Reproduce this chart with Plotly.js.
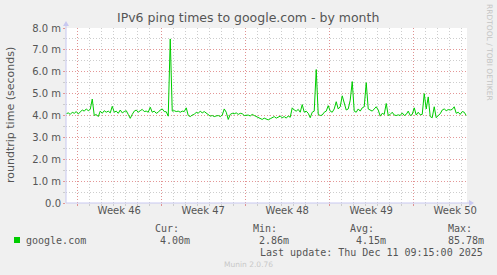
<!DOCTYPE html>
<html><head><meta charset="utf-8">
<script src="https://cdn.plot.ly/plotly-3.0.1.min.js"></script>
<style>html,body{margin:0;padding:0;background:#f0f0f0;}#chart{width:497px;height:275px;}</style>
</head><body><div id="chart"></div>
<script>
// ---- data ----
const seriesName = 'google.com';
const startTime = '2025-11-08T02:00:00Z';
const stepHours = 4;
const rttMs = [
  4.08,4.12,4.05,4.15,4.10,4.18,4.07,
  4.15,4.25,4.20,4.30,4.22,4.28,
  4.75,
  4.00,4.05,3.95,
  4.20,4.10,4.22,4.15,4.20,4.12,
  4.42,
  4.15,4.20,4.10,4.25,4.12,4.18,4.22,
  4.05,3.87,4.05,
  4.20,4.25,4.15,4.22,4.28,4.18,4.20,4.15,
  4.38,
  4.15,4.20,4.10,4.15,4.25,4.30,4.18,
  4.17,3.97,
  7.50,
  4.20,4.22,4.18,4.20,4.15,4.20,4.18,
  4.35,
  4.00,3.95,4.02,4.05,
  4.15,4.10,4.20,4.12,4.18,4.10,4.05,
  3.97,4.00,3.95,3.98,4.00,3.95,4.02,
  4.30,4.15,
  3.82,
  4.05,4.10,4.08,4.12,4.05,4.10,4.08,4.00,
  4.00,4.02,3.98,4.05,4.00,3.95,3.90,
  3.85,3.82,3.88,3.85,
  3.80,3.85,
  3.90,3.95,3.88,3.92,3.97,3.90,3.95,3.88,3.98,3.92,
  4.35,
  4.25,4.20,4.28,4.15,
  4.50,
  4.15,4.20,4.10,3.90,4.15,
  4.20,6.10,
  4.05,4.00,4.02,
  4.15,4.20,4.45,4.20,4.15,
  4.30,4.63,
  4.30,4.40,
  4.90,
  4.60,
  4.25,
  4.30,4.70,
  5.55,
  4.20,4.15,4.30,4.20,4.35,
  4.40,5.50,
  4.30,4.25,
  4.20,4.30,4.40,
  4.25,3.97,
  4.10,4.05,
  4.55,
  4.00,4.05,4.15,4.02,4.00,4.03,
  4.00,4.12,4.00,4.05,4.20,4.00,4.05,
  4.35,
  4.02,4.15,4.03,4.05,
  5.00,4.30,4.85,
  3.95,3.90,
  4.40,
  3.90,
  4.00,4.08,
  4.25,4.30,4.22,4.27,4.25,4.28,4.40,
  4.10,4.15,4.05,4.18,4.15,4.00
];
const yTickVals = [0,1,2,3,4,5,6,7,8];
const yTickText = ['0.0','1.0 m','2.0 m','3.0 m','4.0 m','5.0 m','6.0 m','7.0 m','8.0 m'];
const yMinorVals = [0.5,1.5,2.5,3.5,4.5,5.5,6.5,7.5];
const weekStarts = ['2025-11-09','2025-11-16','2025-11-23','2025-11-30','2025-12-07'];
const weekLabelPos = ['2025-11-12 12:00','2025-11-19 12:00','2025-11-26 12:00','2025-12-03 12:00','2025-12-10 12:00'];
const weekLabels = ['Week 46','Week 47','Week 48','Week 49','Week 50'];
const statHeads = ['Cur:','Min:','Avg:','Max:'];
const statValues = ['4.00m','2.86m','4.15m','85.78m'];
const titleText = 'IPv6 ping times to google.com - by month';
const yTitle = 'roundtrip time (seconds)';
const lastUpdate = 'Last update: Thu Dec 11 09:15:00 2025';
const footer = 'Munin 2.0.76';
const sideText = 'RRDTOOL / TOBI OETIKER';
const xRange = ['2025-11-08 01:30', '2025-12-11 11:34'];

// ---- build ----
const t0 = Date.parse(startTime);
const times = rttMs.map((_, i) => new Date(t0 + i * stepHours * 3600e3).toISOString().slice(0, 19).replace('T', ' '));

const L = 66, T = 28, W = 497, H = 275, PW = 401, PH = 175;
const px = x => (x - L) / PW;
const py = y => (T + PH - y) / PH;

const txt = '#555555';
const mono = 'DejaVu Sans Mono';
const red = 'rgba(225,140,140,0.9)';
const gray = 'rgba(200,200,200,0.9)';
const axisCol = '#c8c8f0';

const ann = [];
function addText(text, x, y, opts) {
  ann.push(Object.assign({
    text: text, xref: 'paper', yref: 'paper', x: px(x), y: py(y),
    xanchor: 'left', yanchor: 'middle', showarrow: false,
    font: { family: mono, size: 10, color: txt }, borderpad: 0
  }, opts || {}));
}
addText(titleText, 248, 18, { xanchor: 'center', font: { family: 'DejaVu Sans', size: 12.5, color: txt } });
addText(yTitle, 10, 115, { xanchor: 'center', textangle: -90, font: { family: 'DejaVu Sans', size: 11, color: txt } });
addText(sideText, 490, 52, { xanchor: 'center', textangle: 90, font: { family: 'DejaVu Sans', size: 7.5, color: '#c4c4c4' } });
addText(seriesName, 25, 240);
const headX = [154, 252, 349, 447];
const valX = [159, 258, 355, 447];
statHeads.forEach((h, i) => addText(h, headX[i], 228));
statValues.forEach((v, i) => addText(v, valX[i], 240));
addText(lastUpdate, 484, 252, { xanchor: 'right' });
addText(footer, 248, 264, { xanchor: 'center', font: { family: 'DejaVu Sans', size: 7.5, color: '#c8c8c8' } });

const shapes = [
  { type: 'rect', xref: 'paper', yref: 'paper', x0: px(14), x1: px(20), y0: py(243), y1: py(237), fillcolor: '#00cc00', line: { width: 0 } },
  { type: 'line', xref: 'paper', yref: 'paper', x0: 0, x1: 0, y0: 0, y1: py(23), line: { color: axisCol, width: 1 } },
  { type: 'line', xref: 'paper', yref: 'paper', x0: 0, x1: px(471), y0: 0, y1: 0, line: { color: axisCol, width: 1 } },
  { type: 'path', xref: 'paper', yref: 'paper',
    path: `M ${px(63)} ${py(26)} L ${px(69)} ${py(26)} L ${px(66)} ${py(21)} Z`, fillcolor: axisCol, line: { width: 0 } },
  { type: 'path', xref: 'paper', yref: 'paper',
    path: `M ${px(469)} ${py(200)} L ${px(469)} ${py(206)} L ${px(474)} ${py(203)} Z`, fillcolor: axisCol, line: { width: 0 } }
];

const trace = {
  x: times, y: rttMs, type: 'scatter', mode: 'lines', name: seriesName,
  line: { color: '#00cc00', width: 1 }, xaxis: 'x', yaxis: 'y', hoverinfo: 'skip'
};

const layout = {
  width: W, height: H,
  margin: { l: L, r: W - L - PW, t: T, b: H - T - PH, pad: 0 },
  paper_bgcolor: '#f0f0f0', plot_bgcolor: '#ffffff',
  showlegend: false,
  font: { family: 'DejaVu Sans', size: 10, color: txt },
  xaxis: {
    type: 'date', range: xRange, fixedrange: true,
    tickmode: 'array', tickvals: weekStarts, ticktext: weekStarts.map(() => ''),
    showgrid: true, gridcolor: red, griddash: '1px,2px', gridwidth: 1,
    ticks: 'outside', ticklen: 2, tickcolor: red,
    minor: { dtick: 86400000, tick0: '2025-11-09', showgrid: true, gridcolor: gray, griddash: '1px,2px', ticks: 'outside', ticklen: 2, tickcolor: gray },
    showline: false, zeroline: false
  },
  xaxis2: {
    type: 'date', range: xRange, overlaying: 'x', anchor: 'y', side: 'bottom', fixedrange: true,
    tickmode: 'array', tickvals: weekLabelPos, ticktext: weekLabels,
    showgrid: false, ticks: '', showline: false, zeroline: false,
    tickfont: { family: 'DejaVu Sans', size: 10, color: txt }
  },
  yaxis: {
    range: [0, 8], fixedrange: true,
    tickmode: 'array', tickvals: yTickVals, ticktext: yTickText,
    showgrid: true, gridcolor: red, griddash: '1px,2px',
    minor: { tickmode: 'array', tickvals: yMinorVals, showgrid: true, gridcolor: gray, griddash: '1px,2px', ticks: 'outside', ticklen: 2, tickcolor: gray },
    ticks: 'outside', ticklen: 2, tickcolor: red,
    showline: false, zeroline: false,
    tickfont: { family: 'DejaVu Sans', size: 10, color: txt }
  },
  annotations: ann,
  shapes: shapes
};

const dummy = { x: [weekLabelPos[0]], y: [null], xaxis: 'x2', yaxis: 'y', type: 'scatter', mode: 'lines', hoverinfo: 'skip' };
Plotly.newPlot('chart', [trace, dummy], layout, { staticPlot: true, displayModeBar: false });
</script>
</body></html>
